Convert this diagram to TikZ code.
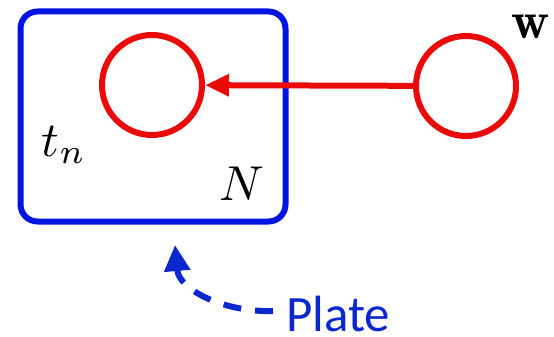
\documentclass[tikz,border=0pt]{standalone}
\usepackage{fontspec}
\newfontfamily\platefont{Carlito}
\usepackage{tikz}
\usetikzlibrary{arrows.meta}
\usetikzlibrary{positioning}
\definecolor{plateblue}{RGB}{0, 20, 225}
\definecolor{noteblue}{RGB}{10, 40, 205}
\definecolor{varred}{RGB}{235, 10, 10}

\begin{document}
\begin{tikzpicture}[x=1pt,y=-1pt,
  var/.style={circle,draw=varred,line width=6pt,minimum size=100pt,inner sep=0pt},
  platebox/.style={rectangle,draw=plateblue,line width=6pt,rounded corners=17pt,
    minimum width=265pt,minimum height=210pt},
  lbl/.style={inner sep=0pt,scale=4.9},
  arr/.style={-{Triangle[length=24pt,width=21pt]},line width=6pt,color=varred}
]
  \useasboundingbox (0,0) rectangle (554,337);
  \node[platebox] (P) at (153,116.5) {};
  \node[var] (T) at (152,85) {};
  \node[var] (W) at (466,86) {};
  \node[lbl] (TL) at (64,145) {$t_n$};
  \node[lbl] (NL) at (242,184) {$N$};
  \node[lbl,scale=1.08] (WL) at (531,27) {$\mathbf{w}$};
  \draw[arr] (W) -- (T);
  % note under the plate
  \node[inner sep=0pt,anchor=base west,text=noteblue,font=\platefont\fontsize{51}{60}\selectfont]
    (note) at (286,331) {Plate};
  \coordinate (tail) at (273,311);
  \coordinate (tip) at (175,245);
  \draw[-{Triangle[length=26pt,width=25pt]},line width=6pt,color=noteblue,
    dash pattern=on 18pt off 14pt]
    (tail) to[out=182,in=-85] (tip);
\end{tikzpicture}
\end{document}
